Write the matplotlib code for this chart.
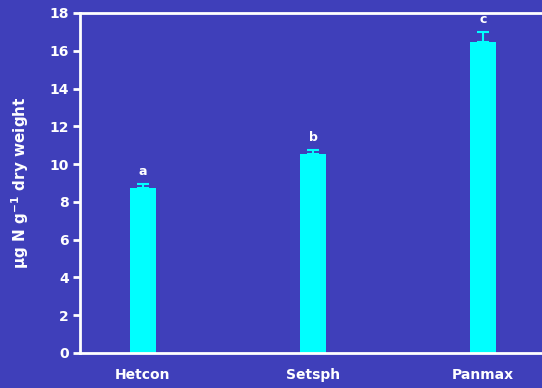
import matplotlib.pyplot as plt
import numpy as np

plt.rcParams['font.family'] = ['DejaVu Sans']
plt.rcParams['font.weight'] = 'bold'
plt.rcParams['mathtext.default'] = 'bf'

# Data
species = ['Hetcon', 'Setsph', 'Panmax']
values = [8.72, 10.52, 16.46]
errors = [0.22, 0.22, 0.52]
letters = ['a', 'b', 'c']

bg = '#3f3fba'
W, H = 542, 388
fig = plt.figure(figsize=(W / 100, H / 100), dpi=100, facecolor=bg)
# axes: left spine at x=80, y from 13 (top) to 353 (bottom); extends past right edge
ax = fig.add_axes([80 / W, (H - 353) / H, (560 - 80) / W, (353 - 13) / H])
ax.set_facecolor(bg)

x = np.arange(len(species))
ax.bar(x, values, width=26 / 170, color='#00ffff', zorder=2)
ax.errorbar(x, values, yerr=[np.zeros(3), errors], fmt='none', ecolor='#00ffff',
            elinewidth=1.5, capsize=4.3, capthick=1.5, zorder=2)

for xi, v, e, l in zip(x, values, errors, letters):
    ax.text(xi, v + e + 0.35, l, ha='center', va='bottom', color='white',
            fontsize=9, fontweight='bold')

ax.set_xlim(-0.37, (560 - 143) / 170)
ax.set_ylim(0, 18)
ax.set_yticks(range(0, 19, 2))
ax.set_xticks(x)
ax.set_xticklabels(species)

for s in ['left', 'top', 'bottom']:
    ax.spines[s].set_color('white')
    ax.spines[s].set_linewidth(2)
ax.spines['right'].set_visible(False)

ax.tick_params(axis='y', colors='white', direction='out', length=5, width=2,
               labelsize=10, pad=3)
ax.tick_params(axis='x', colors='white', length=0, labelsize=10, pad=11)
for lab in ax.get_xticklabels() + ax.get_yticklabels():
    lab.set_fontweight('bold')

ax.set_ylabel(r'µg N g$^{-1}$ dry weight', color='white', fontsize=11,
              fontweight='bold', labelpad=13)

plt.savefig('out.png', dpi=100, facecolor=bg)
